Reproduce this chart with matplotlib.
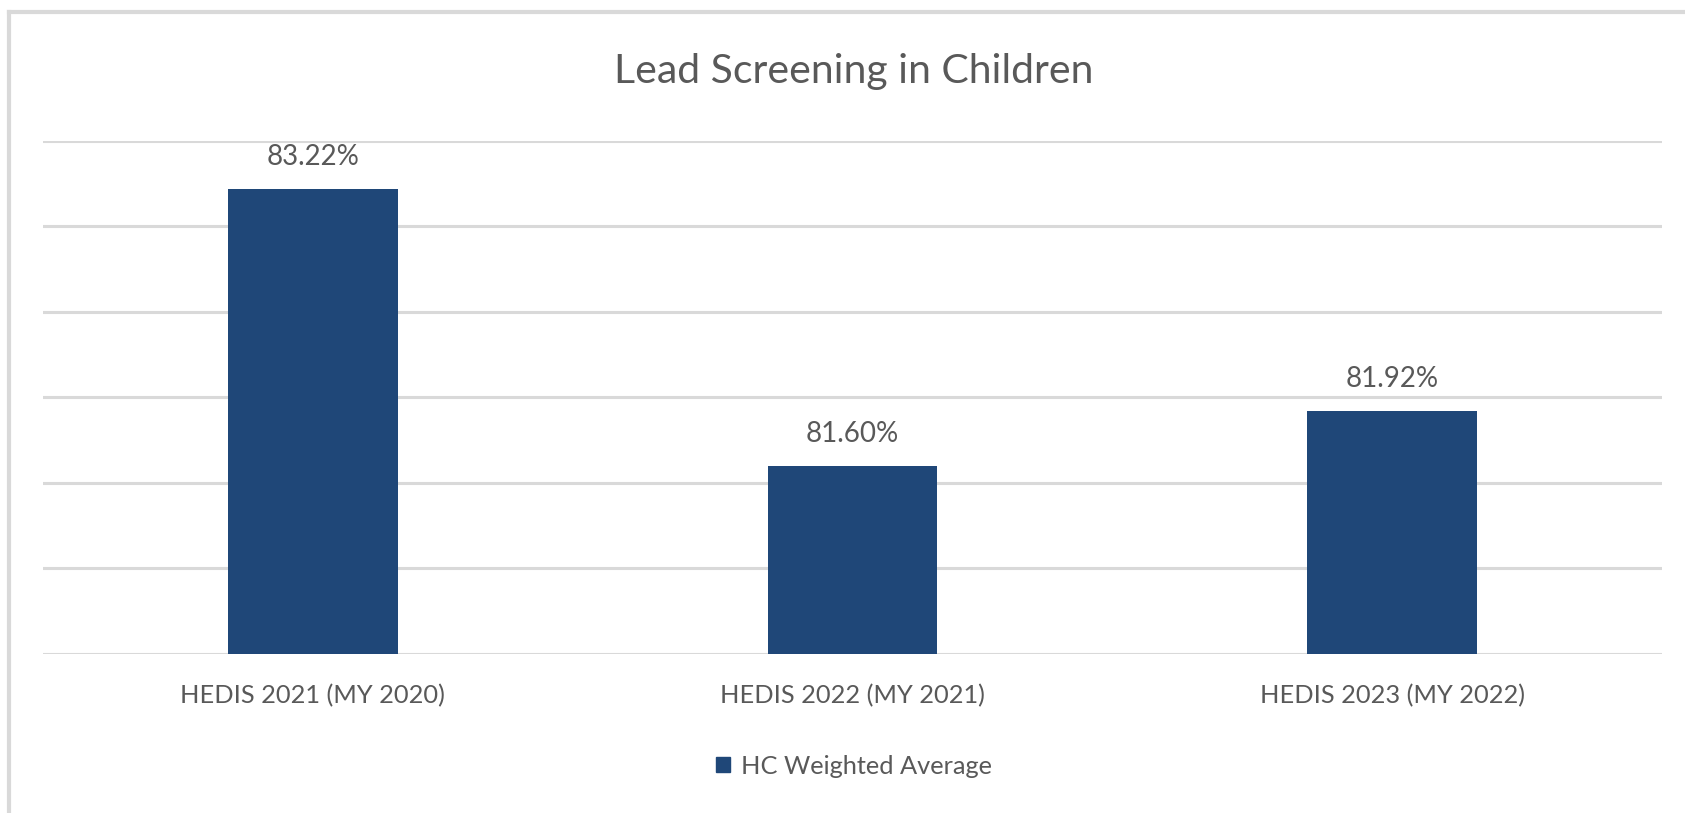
import matplotlib
matplotlib.use("Agg")
import matplotlib.pyplot as plt
from matplotlib.lines import Line2D
from matplotlib.patches import Patch

categories = ["HEDIS 2021 (MY 2020)", "HEDIS 2022 (MY 2021)", "HEDIS 2023 (MY 2022)"]
values = [83.22, 81.60, 81.92]
series_name = "HC Weighted Average"
title = "Lead Screening in Children"

plt.rcParams['font.family'] = ['Lato', 'DejaVu Sans']
TXT = "#595959"
BAR = "#1F4778"
GRID = "#D9D9D9"

W, H = 1685, 813
fig = plt.figure(figsize=(W / 100, H / 100), dpi=100)
fig.patch.set_facecolor("white")

ax = fig.add_axes([43 / W, 1 - 653.5 / H, (1662 - 43) / W, (653.5 - 141) / H])
x = list(range(len(categories)))
ax.bar(x, values, width=0.315, color=BAR, zorder=3, bottom=0)
ax.set_ylim(80.5, 83.5)
ax.set_xlim(-0.5, len(categories) - 0.5)
ax.set_yticks([80.5, 81.0, 81.5, 82.0, 82.5, 83.0, 83.5])
ax.yaxis.grid(True, color=GRID, linewidth=2.2, zorder=0)
ax.tick_params(axis='y', left=False, labelleft=False)
ax.tick_params(axis='x', bottom=False, labelsize=18.3, labelcolor=TXT, pad=18.5)
ax.set_xticks(x)
ax.set_xticklabels(categories)
for s in ax.spines.values():
    s.set_visible(False)

for xi, v in zip(x, values):
    ax.annotate(f"{v:.2f}%", (xi, v), xytext=(0, 23), textcoords="offset points",
                ha="center", va="center", fontsize=20, color=TXT)

fig.text(854 / W, 1 - 72 / H, title, ha="center", va="center", fontsize=29.5, color=TXT)

handles = [Patch(facecolor=BAR, edgecolor=BAR)]
leg = fig.legend(handles, [series_name], loc="center", bbox_to_anchor=(854 / W, 1 - 766 / H),
                 frameon=False, fontsize=18.3, handlelength=0.55, handleheight=0.55,
                 handletextpad=0.4)
for t in leg.get_texts():
    t.set_color(TXT)

# outer chart border (top and left visible)
fig.add_artist(Line2D([9 / W, 9 / W], [0, 1 - 12 / H], transform=fig.transFigure,
                      color=GRID, linewidth=3))
fig.add_artist(Line2D([9 / W, 1], [1 - 12 / H, 1 - 12 / H], transform=fig.transFigure,
                      color=GRID, linewidth=3))

fig.savefig("out.png", dpi=100, facecolor="white")
